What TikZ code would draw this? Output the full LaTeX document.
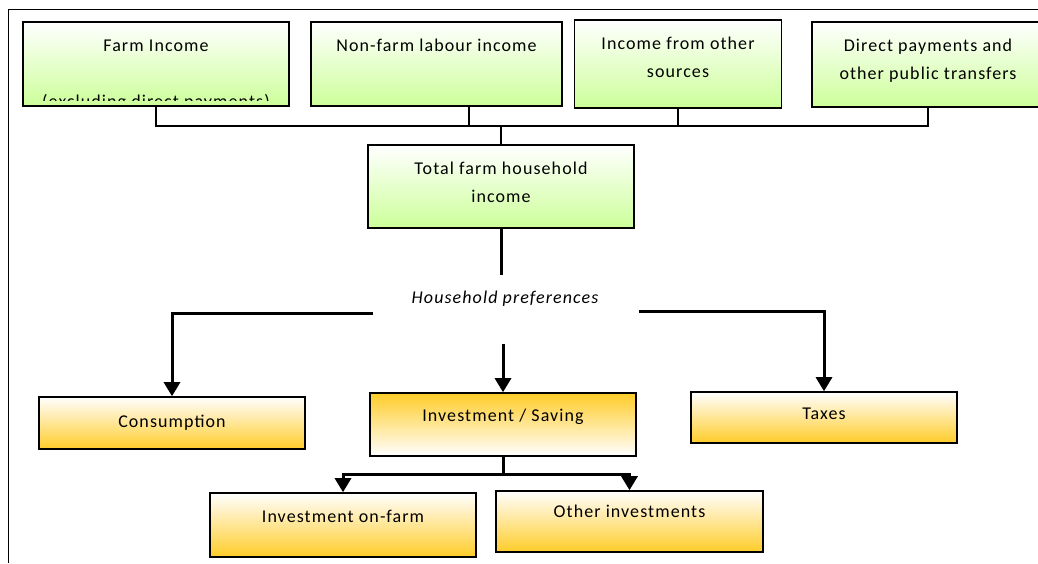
\documentclass[tikz,border=0pt]{standalone}
\usepackage{fontspec}
\setmainfont{Carlito}[LetterSpace=6]
\usetikzlibrary{arrows.meta,calc}
\definecolor{leafgreen}{RGB}{204,255,153}
\definecolor{amber}{RGB}{255,204,41}
\tikzset{
  box/.style={draw=black, line width=1.6pt, rectangle, inner sep=0pt},
  greenbox/.style={box, top color=white, bottom color=leafgreen},
  goldbox/.style={box, top color=white, bottom color=amber},
  goldtop/.style={box, top color=amber, bottom color=white},
  txt/.style={anchor=base, inner sep=0pt, font=\fontsize{18}{28}\selectfont},
  bracket/.style={line width=1.6pt, black},
  flow/.style={line width=3pt, black},
  flowarrow/.style={flow, -{Triangle[width=16pt,length=14pt]}},
  frame/.style={line width=1pt, black}
}
\begin{document}
\begin{tikzpicture}[x=1pt,y=-1pt]
\clip (0,0) rectangle (1038,563);

% outer frame
\draw[frame] (8,563) -- (8,9) -- (1038,9);

% income sources
\node[greenbox, minimum width=266pt, minimum height=84pt] (farm) at (156,64) {};
\node[txt] (farmA) at (156,51) {Farm Income};
\begin{scope}
  \clip (farm.north west) rectangle ($(farm.south east)+(0,-6)$);
  \node[txt] (farmB) at (156,107) {(excluding direct payments)};
\end{scope}

\node[greenbox, minimum width=251pt, minimum height=84pt] (nonfarm) at (436.5,64) {};
\node[txt] (nonfarmA) at (436.5,51) {Non-farm labour income};

\node[greenbox, minimum width=207pt, minimum height=88pt] (other) at (678,64) {};
\node[txt] (otherA) at (678,49) {Income from other};
\node[txt] (otherB) at (678,77) {sources};

\node[greenbox, minimum width=232pt, minimum height=85pt] (direct) at (928,64.5) {};
\node[txt] (directA) at (928,51) {Direct payments and};
\node[txt] (directB) at (928,79) {other public transfers};

% total income
\node[greenbox, minimum width=266pt, minimum height=83pt] (total) at (501,186.5) {};
\node[txt] (totalA) at (501,174) {Total farm household};
\node[txt] (totalB) at (501,202) {income};

% collecting bracket
\coordinate (bus) at (501,126);
\draw[bracket] (farm.south) |- (bus) -- (total.north);
\draw[bracket] ($(nonfarm.south)+(32.5,0)$) |- (bus);
\draw[bracket] (other.south) |- (bus);
\draw[bracket] (direct.south) |- (bus);

% household preferences
\node[txt, font=\fontsize{18}{28}\selectfont\itshape] (pref) at (505,303) {Household preferences};
\coordinate (prefT) at (501,275);
\coordinate (prefL) at (373,313);
\coordinate (prefR) at (639,311);
\coordinate (prefB) at (503,344);
\draw[flow] (total.south) -- (prefT);

% uses of income
\node[goldbox, minimum width=266pt, minimum height=52pt] (cons) at (172,423) {};
\node[txt] (consA) at (172,427) {Consumption};

\node[goldtop, minimum width=266pt, minimum height=63pt] (invsav) at (503,424.5) {};
\node[txt] (invsavA) at (503,421.5) {Investment / Saving};

\node[goldbox, minimum width=266pt, minimum height=51pt] (taxes) at (824,417.5) {};
\node[txt] (taxesA) at (824,419) {Taxes};

\draw[flowarrow] (prefL) -| (cons.north);
\draw[flowarrow] (prefB) -- (invsav.north);
\draw[flowarrow] (prefR) -| (taxes.north);

% investment split
\node[goldbox, minimum width=266pt, minimum height=64pt] (onfarm) at (343,525) {};
\node[txt] (onfarmA) at (343,522) {Investment on-farm};

\node[goldbox, minimum width=267pt, minimum height=61pt] (otherinv) at (629.5,521.5) {};
\node[txt] (otherinvA) at (629.5,517) {Other investments};

\coordinate (split) at (503,474);
\draw[flow] (invsav.south) -- (split);
\draw[flowarrow] (split) -| (onfarm.north);
\draw[flowarrow] (split) -| (otherinv.north);
\end{tikzpicture}
\end{document}
